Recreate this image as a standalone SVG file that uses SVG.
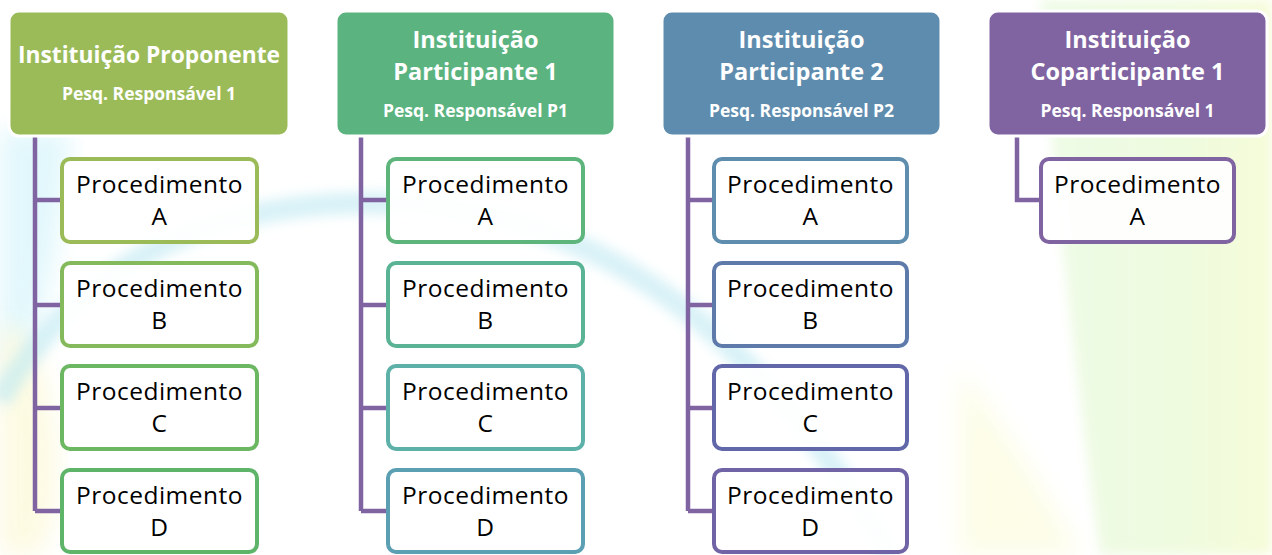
<svg xmlns="http://www.w3.org/2000/svg" width="1272" height="555" viewBox="0 0 1272 555">
<defs>
<filter id="blur" x="-20%" y="-20%" width="140%" height="140%"><feGaussianBlur stdDeviation="12"/></filter>
<filter id="blur2" x="-20%" y="-20%" width="140%" height="140%"><feGaussianBlur stdDeviation="6"/></filter>
<linearGradient id="rightbg" x1="0" y1="0" x2="1" y2="0">
<stop offset="0" stop-color="#eefbe6"/><stop offset="0.6" stop-color="#effbdf"/><stop offset="1" stop-color="#f5fcd8"/>
</linearGradient>
<style>
.hdr{stroke:#fff;stroke-width:3}
.ht{font-family:"Open Sans","Liberation Sans",sans-serif;font-weight:bold;fill:#fff;text-anchor:middle}
.h1{font-size:23.5px}
.h2{font-size:17.5px}
.box{fill:#fff;fill-opacity:0.93;stroke-width:4}
.pt{font-family:"Open Sans","Liberation Sans",sans-serif;font-size:24.5px;letter-spacing:0.5px;fill:#000;text-anchor:middle}
.conn{fill:none;stroke:#8064A2;stroke-width:4.5}
</style>
</defs>
<rect width="1272" height="555" fill="#fff"/>
<g id="background">
<path d="M0,130 L70,130 C60,250 40,350 0,420 Z" fill="#d6f4fb" opacity="0.7" filter="url(#blur)"/>
<path d="M0,330 C40,300 80,480 40,555 L0,555 Z" fill="#fdfadf" opacity="0.9" filter="url(#blur)"/>
<path d="M0,400 C80,260 220,190 420,205 C600,220 760,330 890,555" fill="none" stroke="#bfe9f2" stroke-width="22" opacity="0.6" filter="url(#blur2)"/>
<path d="M1040,0 L1272,0 L1272,555 L1100,555 C1080,400 1060,250 1040,0 Z" fill="url(#rightbg)" filter="url(#blur2)"/>
<path d="M960,370 C1000,420 1050,500 1080,555 L960,555 Z" fill="#fdfde8" filter="url(#blur)"/>
</g>
<g id="connectors">
<path class="conn" d="M35,136 V511 M35,200 H62 M35,305 H62 M35,408 H62 M35,511 H62"/>
<path class="conn" d="M361,136 V511 M361,200 H388 M361,305 H388 M361,408 H388 M361,511 H388"/>
<path class="conn" d="M688,136 V511 M688,200 H714 M688,305 H714 M688,408 H714 M688,511 H714"/>
<path class="conn" d="M1017,136 V200 H1041"/>
</g>
<g id="header1"><rect class="hdr" x="9" y="11" width="280" height="125" rx="10" fill="#9BBB59"/>
<text class="ht h1" x="149" y="63" style="font-size:22.8px">Instituição Proponente</text>
<text class="ht h2" x="149" y="100">Pesq. Responsável 1</text></g>
<g id="header2"><rect class="hdr" x="336" y="11" width="279" height="125" rx="10" fill="#5BB37F"/>
<text class="ht h1" x="475.5" y="48">Instituição</text>
<text class="ht h1" x="475.5" y="80">Participante 1</text>
<text class="ht h2" x="475.5" y="117">Pesq. Responsável P1</text></g>
<g id="header3"><rect class="hdr" x="662" y="11" width="279" height="125" rx="10" fill="#5E8CAE"/>
<text class="ht h1" x="801.5" y="48">Instituição</text>
<text class="ht h1" x="801.5" y="80">Participante 2</text>
<text class="ht h2" x="801.5" y="117">Pesq. Responsável P2</text></g>
<g id="header4"><rect class="hdr" x="988" y="11" width="279" height="125" rx="10" fill="#8064A2"/>
<text class="ht h1" x="1127.5" y="48">Instituição</text>
<text class="ht h1" x="1127.5" y="80">Coparticipante 1</text>
<text class="ht h2" x="1127.5" y="117">Pesq. Responsável 1</text></g>

<g id="p1a"><rect class="box" x="62" y="159" width="195" height="83" rx="8" stroke="#9BBB59"/><text class="pt" x="159.5" y="193">Procedimento</text><text class="pt" x="159.5" y="225">A</text></g>
<g id="p1b"><rect class="box" x="62" y="263" width="195" height="83" rx="8" stroke="#84BA5B"/><text class="pt" x="159.5" y="297">Procedimento</text><text class="pt" x="159.5" y="329">B</text></g>
<g id="p1c"><rect class="box" x="62" y="366" width="195" height="83" rx="8" stroke="#6CB862"/><text class="pt" x="159.5" y="400">Procedimento</text><text class="pt" x="159.5" y="432">C</text></g>
<g id="p1d"><rect class="box" x="62" y="470" width="195" height="82" rx="8" stroke="#5EB56A"/><text class="pt" x="159.5" y="504">Procedimento</text><text class="pt" x="159.5" y="536">D</text></g>

<g id="p2a"><rect class="box" x="388" y="159" width="195" height="83" rx="8" stroke="#5DB57C"/><text class="pt" x="485.5" y="193">Procedimento</text><text class="pt" x="485.5" y="225">A</text></g>
<g id="p2b"><rect class="box" x="388" y="263" width="195" height="83" rx="8" stroke="#5BB395"/><text class="pt" x="485.5" y="297">Procedimento</text><text class="pt" x="485.5" y="329">B</text></g>
<g id="p2c"><rect class="box" x="388" y="366" width="195" height="83" rx="8" stroke="#5EB1A8"/><text class="pt" x="485.5" y="400">Procedimento</text><text class="pt" x="485.5" y="432">C</text></g>
<g id="p2d"><rect class="box" x="388" y="470" width="195" height="82" rx="8" stroke="#5B9FB2"/><text class="pt" x="485.5" y="504">Procedimento</text><text class="pt" x="485.5" y="536">D</text></g>

<g id="p3a"><rect class="box" x="714" y="159" width="193" height="83" rx="8" stroke="#5E8DAE"/><text class="pt" x="810.5" y="193">Procedimento</text><text class="pt" x="810.5" y="225">A</text></g>
<g id="p3b"><rect class="box" x="714" y="263" width="193" height="83" rx="8" stroke="#5E7AAB"/><text class="pt" x="810.5" y="297">Procedimento</text><text class="pt" x="810.5" y="329">B</text></g>
<g id="p3c"><rect class="box" x="714" y="366" width="193" height="83" rx="8" stroke="#6167A8"/><text class="pt" x="810.5" y="400">Procedimento</text><text class="pt" x="810.5" y="432">C</text></g>
<g id="p3d"><rect class="box" x="714" y="470" width="193" height="82" rx="8" stroke="#7164A6"/><text class="pt" x="810.5" y="504">Procedimento</text><text class="pt" x="810.5" y="536">D</text></g>

<g id="p4a"><rect class="box" x="1041" y="159" width="193" height="83" rx="8" stroke="#8064A2"/><text class="pt" x="1137.5" y="193">Procedimento</text><text class="pt" x="1137.5" y="225">A</text></g>
</svg>
